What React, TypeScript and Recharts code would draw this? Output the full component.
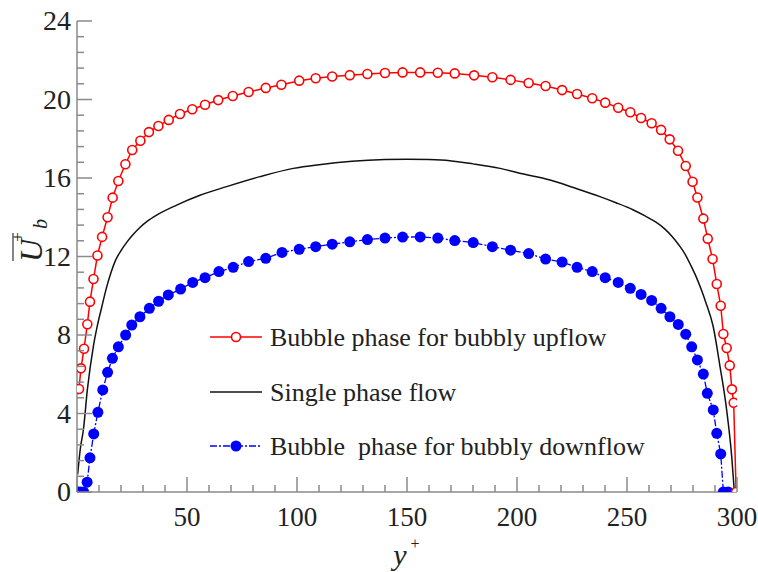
import { LineChart, Line, XAxis, YAxis } from "recharts";

document.body.style.margin = "0";

// y+ / U+b samples
const upflow = [
  [0.9, 5.25], [1.8, 6.3], [3.2, 7.3], [4.7, 8.55], [5.9, 9.7], [7.5, 10.85], [9.3, 12.05],
  [11.4, 13.0], [13.9, 14.0], [16.2, 15.0], [18.8, 15.85], [22, 16.7], [25.1, 17.43],
  [28.8, 17.9], [32.7, 18.34], [37, 18.65], [41.7, 18.96], [46.8, 19.26], [52.4, 19.5],
  [58.2, 19.73], [64.2, 19.97], [70.8, 20.18], [78, 20.38], [85.8, 20.59], [92.9, 20.75],
  [101, 20.96], [108.5, 21.08], [116, 21.17], [124, 21.24], [132, 21.3], [140, 21.35],
  [148, 21.38], [156, 21.38], [164, 21.36], [171.7, 21.33], [180.5, 21.23], [188.8, 21.13],
  [197.1, 21.0], [205.3, 20.84], [213, 20.69], [220.5, 20.48], [227.3, 20.28], [234.2, 20.06],
  [240.1, 19.84], [246, 19.58], [251.5, 19.35], [256.4, 19.06], [261.2, 18.79], [265.5, 18.45],
  [269.4, 17.97], [273.2, 17.39], [276.7, 16.61], [279.8, 15.81], [282, 15.01], [284.7, 13.93],
  [286.7, 12.91], [288.9, 11.87], [290.8, 10.6], [292.6, 9.49], [293.8, 8.05], [295.3, 7.34],
  [296.7, 6.45], [297.7, 5.23], [298.5, 4.55], [299.6, 0],
].map(([x, y]) => ({ x, y }));

const single = [
  [0.3, 0.9], [1.5, 2.2], [2.9, 3.16], [4.7, 5.2], [7.4, 7.4], [9.3, 8.5], [11.2, 9.4],
  [13.5, 10.45], [15.5, 11.2], [17.5, 11.8], [20, 12.3], [22.6, 12.72], [25.5, 13.12],
  [28.6, 13.48], [32, 13.8], [36.2, 14.11], [45.3, 14.62], [55.9, 15.12],
  [68, 15.56], [83.2, 16.07], [98.3, 16.49], [110, 16.68], [125, 16.85], [140, 16.94],
  [150, 16.96], [160, 16.94], [169.5, 16.88], [180, 16.72], [192.3, 16.49], [203, 16.2],
  [215, 15.9], [226, 15.5], [237.7, 15.05], [245, 14.74], [252.9, 14.37], [258, 14.08],
  [263, 13.76], [267, 13.42], [270.5, 13.02], [273.5, 12.6], [276.5, 12.1], [279, 11.55],
  [281.7, 10.9], [283.8, 10.3], [285.7, 9.7], [289.2, 8.42], [292.3, 6.38], [295.3, 4.18],
  [297.6, 1.8], [298.8, 0],
].map(([x, y]) => ({ x, y }));

const downflow = [
  [0.3, 0], [1.6, 0], [3.0, 0], [4.6, 0.5], [5.9, 1.74], [7.6, 2.96], [9.5, 4.06], [11.7, 5.2],
  [13.9, 6.1], [16.1, 6.81], [18.8, 7.4], [22.1, 8.0], [24.9, 8.51], [28.6, 8.93], [32.9, 9.36],
  [37.1, 9.72], [41.5, 10.04], [47.1, 10.34], [52.6, 10.68], [58.2, 10.92], [64.5, 11.23],
  [71, 11.45], [78, 11.74], [85.8, 11.91], [93.2, 12.21], [101, 12.37], [108.5, 12.5],
  [116, 12.63], [124, 12.75], [132, 12.86], [140, 12.94], [148, 12.99], [156, 13.0],
  [164, 12.94], [171.7, 12.81], [180.1, 12.71], [188.8, 12.5], [197.1, 12.32], [205.3, 12.15],
  [213, 11.87], [220.5, 11.72], [227.3, 11.45], [234.2, 11.23], [240.1, 10.92], [246, 10.68],
  [251.5, 10.38], [256.4, 10.07], [261.2, 9.76], [265.5, 9.36], [269.5, 8.93], [273.3, 8.54],
  [276.7, 8.04], [279.4, 7.4], [282, 6.73], [284.7, 6.01], [286.5, 5.03], [289.2, 4.18],
  [290.8, 2.99], [292.6, 1.94], [293.8, 0], [296, 0],
].map(([x, y]) => ({ x, y }));

const legendNames = [
  "Bubble phase for bubbly upflow",
  "Single phase flow",
  "Bubble  phase for bubbly downflow",
];

const xMajor = [50, 100, 150, 200, 250, 300];
const yMajor = [0, 4, 8, 12, 16, 20, 24];
const xTicks = Array.from({ length: 31 }, (_, i) => i * 10);
const yTicks = Array.from({ length: 31 }, (_, i) => Math.round(i * 0.8 * 100) / 100);

const FONT = '"Liberation Serif", "Times New Roman", serif';
const AXIS = "#8a8a8a";

const XTick = ({ x, y, payload }: any) => {
  const v = payload.value;
  const major = v % 50 === 0;
  return (
    <g>
      <line x1={x} x2={x} y1={y} y2={y - (major ? 15 : 7)} stroke={AXIS} strokeWidth={1.5} />
      {major && xMajor.includes(v) && (
        <text x={x} y={y + 34} textAnchor="middle" fontFamily={FONT} fontSize={27} fill="#222">
          {v}
        </text>
      )}
    </g>
  );
};

const YTick = ({ x, y, payload }: any) => {
  const v = payload.value;
  const major = yMajor.some((m) => Math.abs(m - v) < 1e-6);
  return (
    <g>
      <line x1={x} x2={x + (major ? 15 : 7)} y1={y} y2={y} stroke={AXIS} strokeWidth={1.5} />
      {major && (
        <text x={x - 6} y={y + 9} textAnchor="end" fontFamily={FONT} fontSize={28} fill="#222">
          {v}
        </text>
      )}
    </g>
  );
};

const OpenDot = (p: any) => (
  <circle key={p.index} cx={p.cx} cy={p.cy} r={4.5} fill="#fff" stroke="#ff0000" strokeWidth={1.6} />
);
const FilledDot = (p: any) => (
  <circle key={p.index} cx={p.cx} cy={p.cy} r={5.5} fill="#0000ff" stroke="none" />
);

export default function App() {
  return (
    <div style={{ position: "relative", width: 758, height: 572, background: "#fff" }}>
      <LineChart width={758} height={572} margin={{ top: 21, right: 21, left: 0, bottom: 0 }}>
        <XAxis
          type="number"
          dataKey="x"
          domain={[0, 300]}
          ticks={xTicks}
          interval={0}
          height={80}
          tickSize={0}
          tickMargin={0}
          tickLine={false}
          tick={<XTick />}
          axisLine={{ stroke: AXIS, strokeWidth: 1.5 }}
          allowDataOverflow
        />
        <YAxis
          type="number"
          domain={[0, 24]}
          ticks={yTicks}
          interval={0}
          width={77}
          tickSize={0}
          tickMargin={0}
          tickLine={false}
          tick={<YTick />}
          axisLine={{ stroke: AXIS, strokeWidth: 1.5 }}
          allowDataOverflow
        />
        <Line data={single} dataKey="y" type="monotone" stroke="#111" strokeWidth={1.5} dot={false} isAnimationActive={false} />
        <Line data={downflow} dataKey="y" type="linear" stroke="#0000ff" strokeWidth={1.3} strokeDasharray="7 2 2 2" dot={<FilledDot />} isAnimationActive={false} />
        <Line data={upflow} dataKey="y" type="linear" stroke="#ff0000" strokeWidth={1.5} dot={<OpenDot />} isAnimationActive={false} />
      </LineChart>

      <svg width={758} height={572} style={{ position: "absolute", left: 0, top: 0, pointerEvents: "none" }}>
        {/* y-axis title: overline U, superscript +, subscript b */}
        <g transform="translate(0,262) rotate(-90)" fontFamily={FONT} fill="#222">
          <text x={0} y={42} fontSize={32} fontStyle="italic">U</text>
          <line x1={1} x2={29} y1={13} y2={13} stroke="#444" strokeWidth={1.3} />
          <text x={25} y={23} fontSize={17} textAnchor="middle">+</text>
          <text x={33} y={47} fontSize={20} fontStyle="italic">b</text>
        </g>
        {/* x-axis title */}
        <g fontFamily={FONT} fill="#222">
          <text x={400} y={565} fontSize={30} fontStyle="italic" textAnchor="middle">y</text>
          <text x={415} y={549} fontSize={16} textAnchor="middle">+</text>
        </g>
        {/* legend */}
        <g fontFamily={FONT} fontSize={26} fill="#222">
          <line x1={210} x2={262} y1={337} y2={337} stroke="#ff0000" strokeWidth={1.5} />
          <circle cx={236} cy={337} r={4.5} fill="#fff" stroke="#ff0000" strokeWidth={1.6} />
          <text x={270} y={346} style={{ whiteSpace: "pre" }}>{legendNames[0]}</text>
          <line x1={210} x2={262} y1={392} y2={392} stroke="#111" strokeWidth={1.5} />
          <text x={270} y={401} style={{ whiteSpace: "pre" }}>{legendNames[1]}</text>
          <line x1={210} x2={262} y1={446} y2={446} stroke="#0000ff" strokeWidth={1.3} strokeDasharray="7 2 2 2" />
          <circle cx={236} cy={446} r={5.5} fill="#0000ff" />
          <text x={270} y={455} style={{ whiteSpace: "pre" }}>{legendNames[2]}</text>
        </g>
      </svg>
    </div>
  );
}
